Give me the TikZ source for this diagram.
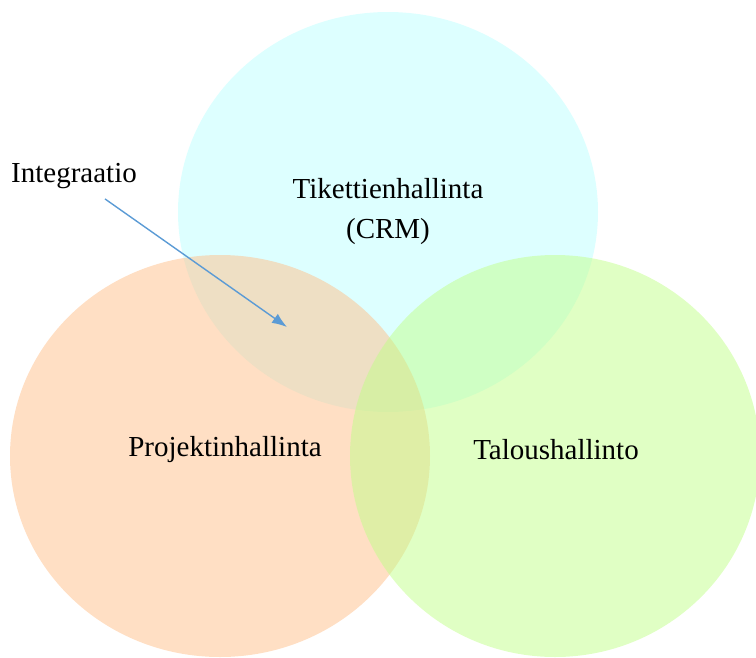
\documentclass[tikz,border=0pt]{standalone}
\usepackage{fontspec}
\setmainfont{Liberation Serif}
\usetikzlibrary{arrows.meta}
\definecolor{cyanfill}{RGB}{187,255,255}
\definecolor{peachfill}{RGB}{255,191,137}
\definecolor{greenfill}{RGB}{193,255,137}
\definecolor{arrowblue}{RGB}{91,155,213}
\tikzset{
  area/.style={fill opacity=0.5, draw=none},
  label/.style={font=\fontsize{29}{40}\selectfont, text=black, inner sep=2pt, align=center},
  pointer/.style={draw=arrowblue, line width=1.4pt, -{Latex[length=15pt,width=11pt]}}
}
\begin{document}
\begin{tikzpicture}[x=1pt,y=-1pt]
  \useasboundingbox (0,0) rectangle (756,657);
  % three overlapping areas
  \fill[area, fill=cyanfill]  (388,212) ellipse [x radius=210, y radius=200];
  \fill[area, fill=peachfill] (220,456) ellipse [x radius=210, y radius=201];
  \fill[area, fill=greenfill] (555,456) ellipse [x radius=205, y radius=201];
  % labels
  \node[label] (crm)   at (388,212) {Tikettienhallinta\\(CRM)};
  \node[label] (proj)  at (225,450) {Projektinhallinta};
  \node[label] (talous) at (556,450) {Taloushallinto};
  \node[label, anchor=west] (integ) at (9,176) {Integraatio};
  % pointer into the overlap
  \coordinate (overlap) at (287,327);
  \draw[pointer] ([xshift=31pt, yshift=-8pt]integ.south) -- (overlap);
\end{tikzpicture}
\end{document}
